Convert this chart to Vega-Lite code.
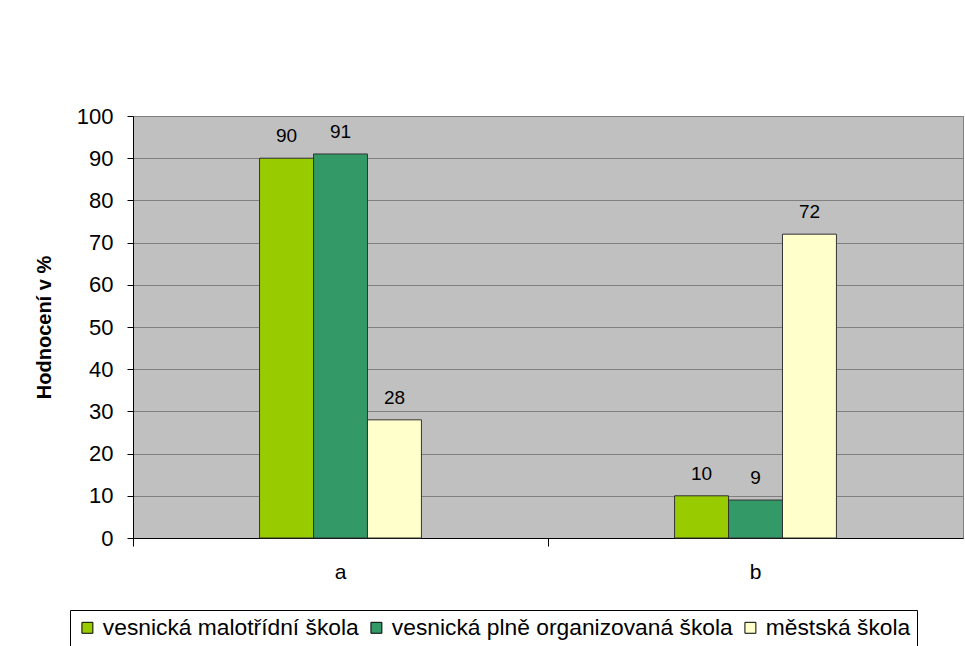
{
  "$schema": "https://vega.github.io/schema/vega-lite/v6.json",
  "width": 830,
  "height": 422,
  "autosize": {"type": "none"},
  "padding": {"left": 133, "top": 116, "right": 2, "bottom": 108},
  "background": "white",
  "config": {
    "font": "Liberation Sans",
    "view": {"fill": "#C0C0C0", "stroke": "#808080", "strokeWidth": 1}
  },
  "data": {
    "values": [
      {"kat": "a", "skola": "vesnická malotřídní škola", "hodnota": 90},
      {"kat": "a", "skola": "vesnická plně organizovaná škola", "hodnota": 91},
      {"kat": "a", "skola": "městská škola", "hodnota": 28},
      {"kat": "b", "skola": "vesnická malotřídní škola", "hodnota": 10},
      {"kat": "b", "skola": "vesnická plně organizovaná škola", "hodnota": 9},
      {"kat": "b", "skola": "městská škola", "hodnota": 72}
    ]
  },
  "encoding": {
    "x": {
      "field": "kat", "type": "nominal",
      "scale": {"paddingInner": 0.61, "paddingOuter": 0.305},
      "axis": {
        "title": null, "labelAngle": 0, "labelFontSize": 21, "labelColor": "black",
        "labelPadding": 15, "domainColor": "black", "tickColor": "black",
        "tickSize": 8, "bandPosition": -0.7815, "grid": false
      }
    },
    "xOffset": {
      "field": "skola", "type": "nominal",
      "sort": ["vesnická malotřídní škola", "vesnická plně organizovaná škola", "městská škola"],
      "scale": {"paddingInner": 0, "paddingOuter": 0}
    },
    "y": {
      "field": "hodnota", "type": "quantitative",
      "scale": {"domain": [0, 100]},
      "axis": {
        "title": "Hodnocení v %", "titleFontSize": 20, "titleFontWeight": "bold",
        "titleColor": "black", "titlePadding": 22,
        "values": [0, 10, 20, 30, 40, 50, 60, 70, 80, 90, 100],
        "labelFontSize": 22, "labelColor": "black", "labelPadding": 14,
        "tickSize": 6, "tickColor": "black", "domainColor": "black",
        "gridColor": "#808080", "gridWidth": 1, "gridOpacity": 1
      }
    }
  },
  "layer": [
    {
      "mark": {"type": "bar", "stroke": "#333333", "strokeWidth": 1},
      "encoding": {
        "color": {
          "field": "skola", "type": "nominal",
          "scale": {
            "domain": ["vesnická malotřídní škola", "vesnická plně organizovaná škola", "městská škola"],
            "range": ["#99CC00", "#339966", "#FFFFCC"]
          },
          "legend": {
            "title": null, "orient": "none", "direction": "horizontal", "columns": 3,
            "legendX": -63, "legendY": 494,
            "labelFontSize": 22.8, "labelColor": "black", "labelLimit": 500,
            "symbolType": "square", "symbolSize": 120, "symbolStrokeColor": "black",
            "symbolStrokeWidth": 1, "symbolOpacity": 1, "columnPadding": 6,
            "strokeColor": "black", "fillColor": "white", "padding": 6
          }
        }
      }
    },
    {
      "mark": {"type": "text", "dy": -22, "fontSize": 19, "color": "black"},
      "encoding": {"text": {"field": "hodnota", "type": "quantitative"}}
    }
  ]
}
